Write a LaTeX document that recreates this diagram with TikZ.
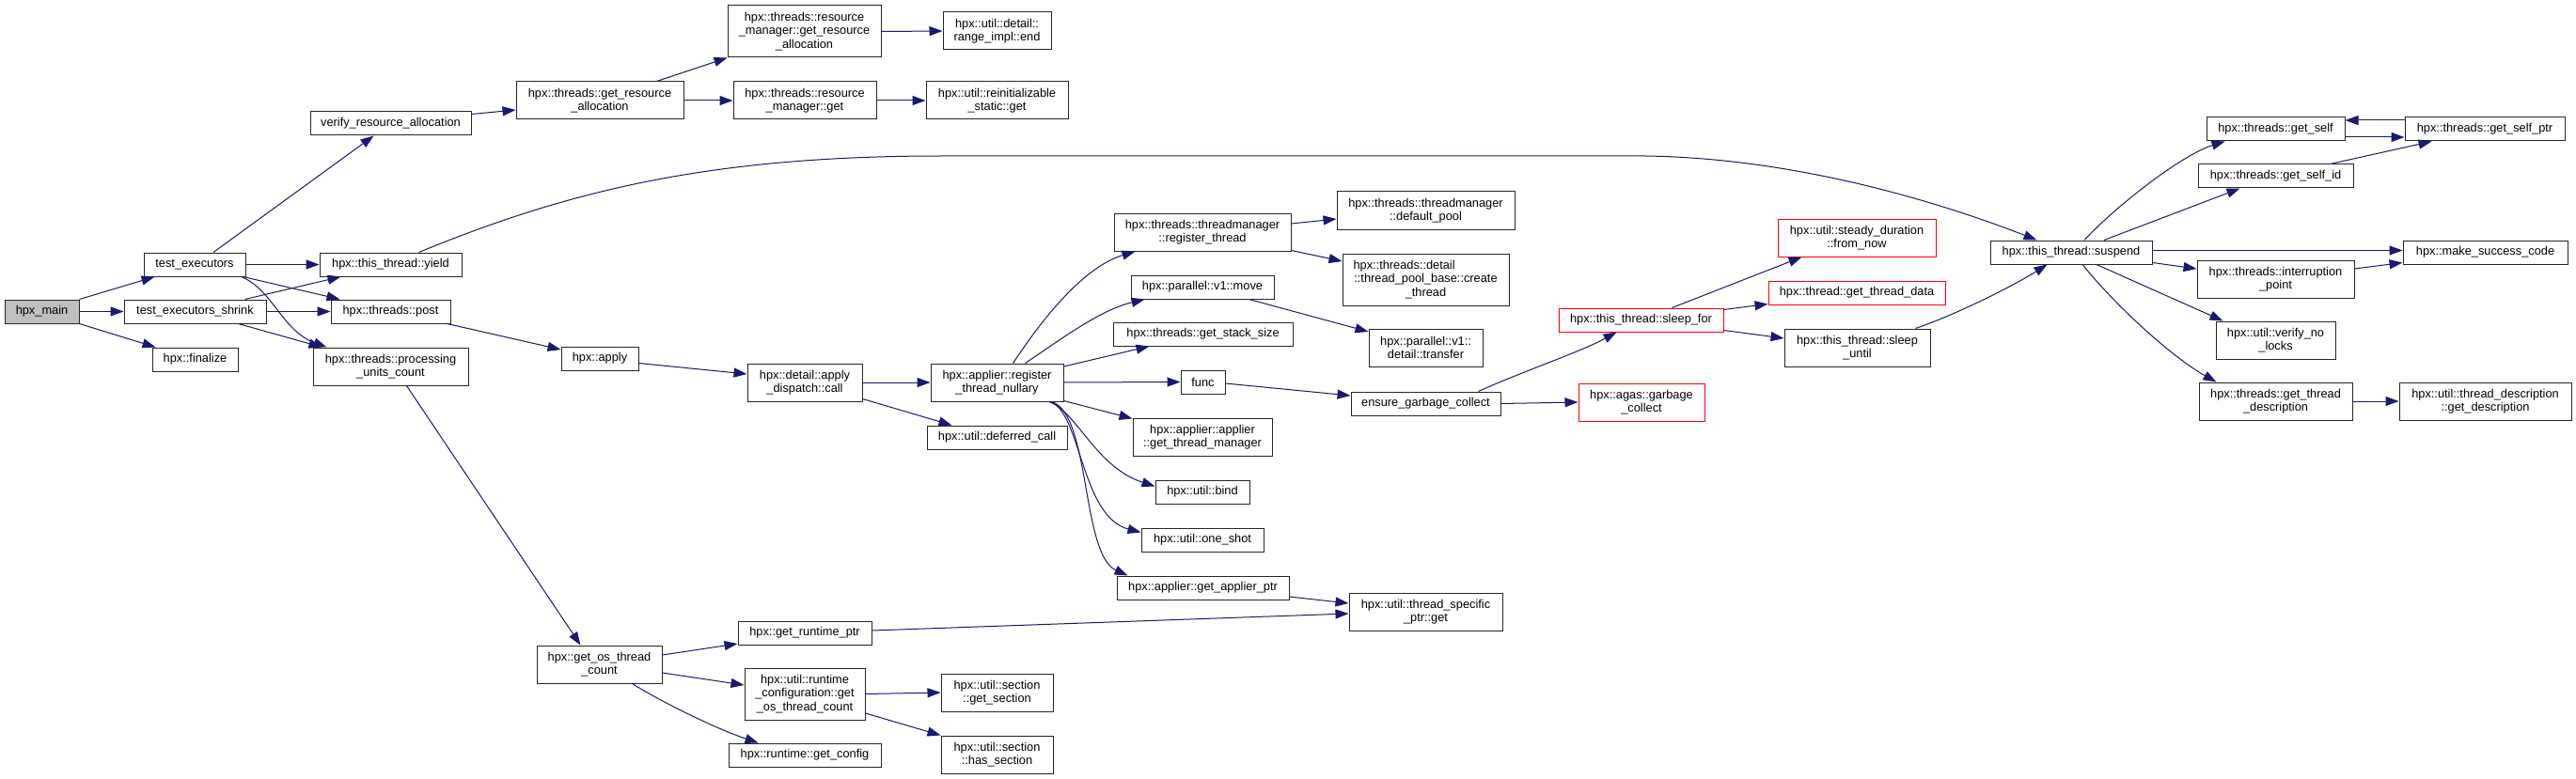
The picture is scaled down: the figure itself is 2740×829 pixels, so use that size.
\documentclass[tikz,border=0pt]{standalone}
\usepackage{fontspec}
\setmainfont{Liberation Sans}
\usetikzlibrary{arrows.meta,calc}
\definecolor{edgeblue}{HTML}{191970}
\newcommand\hbx[7][]{\node[box,#1,minimum width={#4-#2}, minimum height={#5-#3}] (#6) at ({(#2+#4)/2},{(#3+#5)/2}) {#7};}
\begin{document}
\begin{tikzpicture}[x=1pt,y=-1pt,
  box/.style={draw=black!85, line width=1pt, inner sep=0pt, align=center, font=\fontsize{12.8}{14.5}\selectfont, fill=white},
  redbox/.style={draw=red},
  conn/.style={draw=edgeblue, line width=1pt, -{Triangle[length=14pt,width=10pt]}}]
\useasboundingbox[fill=white] (0,0) rectangle (2740,829);
% nodes
\hbx[fill=gray!50]{5}{319}{84}{344}{main}{hpx\_main}
\hbx{153}{269}{261}{294}{te}{test\_executors}
\hbx{132}{319}{283}{344}{tes}{test\_executors\_shrink}
\hbx{162}{370}{253}{395}{fin}{hpx::finalize}
\hbx{330}{119}{501}{144}{vra}{verify\_resource\_allocation}
\hbx{340}{269}{491}{294}{yield}{hpx::this\_thread::yield}
\hbx{352}{319}{479}{344}{post}{hpx::threads::post}
\hbx{333}{370}{498}{410}{puc}{hpx::threads::processing\\\_units\_count}
\hbx{549}{87}{727}{127}{gra}{hpx::threads::get\_resource\\\_allocation}
\hbx{774}{6}{937}{61}{rmgra}{hpx::threads::resource\\\_manager::get\_resource\\\_allocation}
\hbx{780}{87}{932}{127}{rmget}{hpx::threads::resource\\\_manager::get}
\hbx{597}{369}{679}{394}{apply}{hpx::apply}
\hbx{795}{387}{917}{427}{adc}{hpx::detail::apply\\\_dispatch::call}
\hbx{571}{687}{704}{727}{gotc}{hpx::get\_os\_thread\\\_count}
\hbx{785}{661}{927}{686}{grp}{hpx::get\_runtime\_ptr}
\hbx{792}{711}{920}{766}{rcgotc}{hpx::util::runtime\\\_configuration::get\\\_os\_thread\_count}
\hbx{775}{791}{937}{816}{gcfg}{hpx::runtime::get\_config}
\hbx{1003}{13}{1118}{53}{rend}{hpx::util::detail::\\range\_impl::end}
\hbx{985}{87}{1136}{127}{reinit}{hpx::util::reinitializable\\\_static::get}
\hbx{1185}{227}{1373}{267}{regth}{hpx::threads::threadmanager\\::register\_thread}
\hbx{1203}{293}{1355}{318}{move}{hpx::parallel::v1::move}
\hbx{1184}{343}{1375}{368}{stack}{hpx::threads::get\_stack\_size}
\hbx{990}{387}{1131}{427}{rtn}{hpx::applier::register\\\_thread\_nullary}
\hbx{1256}{394}{1303}{419}{func}{func}
\hbx{986}{453}{1135}{478}{defc}{hpx::util::deferred\_call}
\hbx{1205}{445}{1353}{485}{gtm}{hpx::applier::applier\\::get\_thread\_manager}
\hbx{1229}{511}{1329}{536}{bind}{hpx::util::bind}
\hbx{1214}{562}{1344}{587}{oneshot}{hpx::util::one\_shot}
\hbx{1188}{613}{1371}{638}{gap}{hpx::applier::get\_applier\_ptr}
\hbx{1001}{717}{1120}{757}{gsec}{hpx::util::section\\::get\_section}
\hbx{1001}{783}{1120}{823}{hsec}{hpx::util::section\\::has\_section}
\hbx{1422}{204}{1611}{244}{defpool}{hpx::threads::threadmanager\\::default\_pool}
\hbx{1428}{270}{1605}{325}{create}{\makebox[154pt][l]{hpx::threads::detail}\\::thread\_pool\_base::create\\\_thread}
\hbx{1456}{350}{1577}{390}{transfer}{hpx::parallel::v1::\\detail::transfer}
\hbx{1437}{417}{1596}{442}{egc}{ensure\_garbage\_collect}
\hbx{1435}{631}{1598}{671}{tsp}{hpx::util::thread\_specific\\\_ptr::get}
\hbx[redbox]{1658}{328}{1833}{353}{sleepfor}{hpx::this\_thread::sleep\_for}
\hbx[redbox]{1679}{408}{1813}{448}{agasgc}{hpx::agas::garbage\\\_collect}
\hbx[redbox]{1891}{233}{2059}{273}{fromnow}{hpx::util::steady\_duration\\::from\_now}
\hbx[redbox]{1881}{299}{2069}{324}{gtd}{hpx::thread::get\_thread\_data}
\hbx{1898}{350}{2053}{390}{sleepuntil}{hpx::this\_thread::sleep\\\_until}
\hbx{2117}{256}{2289}{281}{suspend}{hpx::this\_thread::suspend}
\hbx{2347}{125}{2494}{150}{getself}{hpx::threads::get\_self}
\hbx{2558}{125}{2728}{150}{selfptr}{hpx::threads::get\_self\_ptr}
\hbx{2338}{175}{2503}{200}{selfid}{hpx::threads::get\_self\_id}
\hbx{2556}{256}{2731}{281}{msc}{hpx::make\_success\_code}
\hbx{2337}{277}{2504}{317}{ip}{hpx::threads::interruption\\\_point}
\hbx{2357}{342}{2484}{382}{vnl}{hpx::util::verify\_no\\\_locks}
\hbx{2339}{407}{2502}{447}{gtdesc}{hpx::threads::get\_thread\\\_description}
\hbx{2552}{407}{2735}{447}{getdesc}{hpx::util::thread\_description\\::get\_description}
% edges
\draw[conn] (main.north east) -- ($(te.south west)+(12,0)$);
\draw[conn] (main.east) -- (tes.west);
\draw[conn] (main.south east) -- ($(fin.north west)+(4,0)$);
\draw[conn] ($(te.north)+(20,0)$) -- ($(vra.south)+(-18,0)$);
\draw[conn] (te.east) -- (yield.west);
\draw[conn] ($(te.south east)+(-3,0)$) -- ($(post.north west)+(10,0)$);
\draw[conn] ($(te.south east)+(-5,0)$) .. controls (290,308) and (300,352) .. ($(puc.north west)+(15,0)$);
\draw[conn] ($(tes.north east)+(-23,0)$) -- ($(yield.south west)+(23,0)$);
\draw[conn] (tes.east) -- (post.west);
\draw[conn] ($(tes.south east)+(-30,0)$) -- ($(puc.north west)+(10,0)$);
\draw[conn] ($(vra.east)+(0,-10)$) -- ($(gra.west)+(0,10)$);
\draw[conn] ($(gra.north east)+(-29,0)$) -- (rmgra.south west);
\draw[conn] (gra.east) -- (rmget.west);
\draw[conn] (rmgra.east) -- (rend.west);
\draw[conn] (rmget.east) -- (reinit.west);
\draw[conn] ($(yield.north)+(30,0)$) .. controls (600,205) and (750,166) .. (1000,166) -- (1750,166) .. controls (1900,168) and (2050,210) .. ($(suspend.north west)+(50,0)$);
\draw[conn] ($(post.south east)+(-4,0)$) -- ($(apply.west)+(0,-9.5)$);
\draw[conn] ($(puc.south)+(17,0)$) -- ($(gotc.north)+(-20,0)$);
\draw[conn] ($(apply.east)+(0,5)$) -- ($(adc.west)+(0,-9)$);
\draw[conn] (adc.east) -- (rtn.west);
\draw[conn] ($(adc.south east)+(0,-3)$) -- ($(defc.north west)+(27,0)$);
\draw[conn] ($(rtn.north)+(17,0)$) .. controls (1105,345) and (1150,285) .. ($(regth.south west)+(23,0)$);
\draw[conn] ($(rtn.north)+(30,0)$) .. controls (1130,360) and (1170,330) .. ($(move.south west)+(15,0)$);
\draw[conn] ($(rtn.east)+(0,-17)$) -- ($(stack.south west)+(39,0)$);
\draw[conn] (rtn.east) -- (func.west);
\draw[conn] ($(rtn.south east)+(0,-1)$) -- ($(gtm.north west)+(0,1)$);
\draw[conn] ($(rtn.south east)+(-16,0)$) .. controls (1145,437) and (1165,497) .. ($(bind.west)+(0,-6)$);
\draw[conn] ($(rtn.south east)+(-14,0)$) .. controls (1150,440) and (1150,550) .. ($(oneshot.west)+(0,-8)$);
\draw[conn] ($(rtn.south east)+(-13,0)$) .. controls (1160,440) and (1150,590) .. ($(gap.north west)+(12,0)$);
\draw[conn] ($(regth.east)+(0,-9)$) -- ($(defpool.west)+(0,9)$);
\draw[conn] ($(regth.south east)+(0,-1)$) -- ($(create.west)+(0,-19.5)$);
\draw[conn] ($(move.south east)+(-27,0)$) -- ($(transfer.west)+(0,-17)$);
\draw[conn] ($(func.east)+(0,1.5)$) -- ($(egc.west)+(0,-8.5)$);
\draw[conn] ($(egc.north east)+(-24,0)$) .. controls (1620,395) and (1680,375) .. ($(sleepfor.south west)+(62,0)$);
\draw[conn] (egc.east) -- (agasgc.west);
\draw[conn] ($(sleepfor.north east)+(-55,0)$) -- ($(fromnow.south west)+(26,0)$);
\draw[conn] ($(sleepfor.east)+(0,-11)$) -- ($(gtd.south west)+(0,-1)$);
\draw[conn] ($(sleepfor.east)+(0,11)$) -- ($(sleepuntil.west)+(0,-10)$);
\draw[conn] ($(sleepuntil.north east)+(-16,0)$) .. controls (2080,335) and (2140,305) .. ($(suspend.south west)+(61,0)$);
\draw[conn] ($(suspend.north)+(14,0)$) .. controls (2250,220) and (2320,165) .. ($(getself.south west)+(20,0)$);
\draw[conn] ($(suspend.north)+(35,0)$) -- ($(selfid.south west)+(45,0)$);
\draw[conn] ($(suspend.east)+(0,-2)$) -- ($(msc.west)+(0,-2)$);
\draw[conn] ($(suspend.south east)+(0,-2)$) -- ($(ip.west)+(0,-11)$);
\draw[conn] ($(suspend.south)+(27,0)$) -- ($(vnl.north west)+(8,0)$);
\draw[conn] ($(suspend.south)+(12,0)$) .. controls (2250,325) and (2310,380) .. ($(gtdesc.north west)+(19,0)$);
\draw[conn] ($(getself.east)+(0,8.5)$) -- ($(selfptr.west)+(0,8.5)$);
\draw[conn] ($(selfptr.west)+(0,-9.5)$) -- ($(getself.east)+(0,-9.5)$);
\draw[conn] ($(selfid.north east)+(-25,0)$) -- ($(selfptr.south west)+(29,0)$);
\draw[conn] ($(ip.east)+(0,-11)$) -- ($(msc.south west)+(0,-2)$);
\draw[conn] (gtdesc.east) -- (getdesc.west);
\draw[conn] ($(gotc.east)+(0,-10)$) -- ($(grp.west)+(0,11.5)$);
\draw[conn] ($(gotc.east)+(0,9)$) -- ($(rcgotc.west)+(0,-9.5)$);
\draw[conn] ($(gotc.south)+(35,0)$) .. controls (700,745) and (760,775) .. ($(gcfg.north west)+(32,0)$);
\draw[conn] ($(grp.east)+(0,-2.5)$) -- ($(tsp.west)+(0,2)$);
\draw[conn] ($(gap.east)+(0,9.5)$) -- ($(tsp.west)+(0,-9)$);
\draw[conn] (rcgotc.east) -- (gsec.west);
\draw[conn] ($(rcgotc.east)+(0,20.5)$) -- (hsec.north west);
\end{tikzpicture}
\end{document}
